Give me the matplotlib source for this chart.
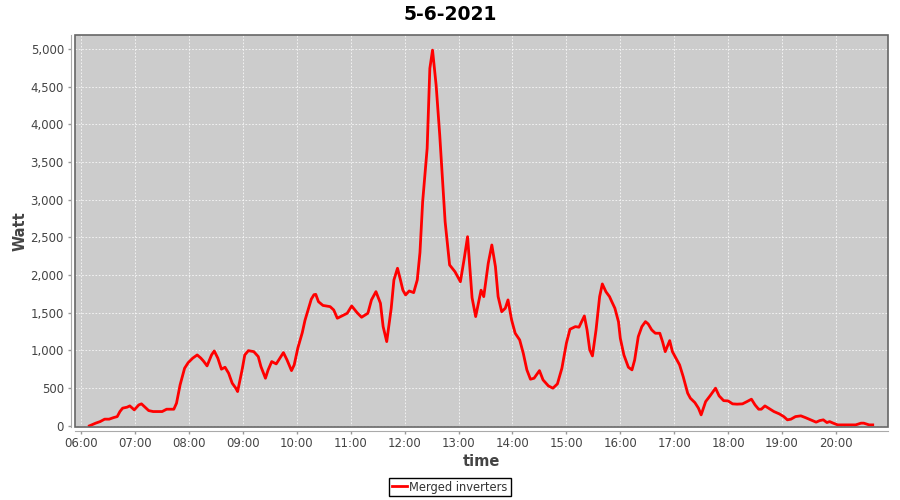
"""
Power of the merged inverters during one day (5-6-2021)
"""

# Imports
from datetime import datetime
import matplotlib
matplotlib.use("Agg")
import matplotlib.pyplot as plt
import matplotlib.dates as mdates
import matplotlib.ticker as ticker
from matplotlib.patches import Rectangle

# Define constants
DAY = "2021-06-05"
TITLE = "5-6-2021"
SERIES_NAME = "Merged inverters"

# Measured power (time of day, watt)
times = [
    "06:09", "06:16", "06:21", "06:26", "06:31", "06:36", "06:40", "06:43", "06:46", "06:51",
    "06:54", "06:59", "07:04", "07:07", "07:11", "07:15", "07:20", "07:30", "07:35", "07:43",
    "07:46", "07:50", "07:55", "07:59", "08:04", "08:09", "08:13", "08:16", "08:20", "08:25",
    "08:28", "08:32", "08:36", "08:40", "08:44", "08:48", "08:52", "08:54", "08:59", "09:02",
    "09:06", "09:12", "09:17", "09:20", "09:25", "09:28", "09:32", "09:37", "09:41", "09:45",
    "09:49", "09:54", "09:57", "10:01", "10:06", "10:09", "10:13", "10:16", "10:19", "10:21",
    "10:24", "10:29", "10:37", "10:41", "10:45", "10:50", "10:56", "11:01", "11:07", "11:12",
    "11:19", "11:23", "11:28", "11:33", "11:36", "11:40", "11:45", "11:48", "11:52", "11:55",
    "11:58", "12:01", "12:05", "12:10", "12:14", "12:17", "12:20", "12:25", "12:28", "12:31",
    "12:35", "12:39", "12:45", "12:50", "12:56", "13:02", "13:06", "13:10", "13:15", "13:19",
    "13:25", "13:28", "13:33", "13:37", "13:41", "13:44", "13:48", "13:52", "13:55", "13:59",
    "14:03", "14:08", "14:12", "14:16", "14:20", "14:24", "14:30", "14:34", "14:40", "14:45",
    "14:50", "14:55", "15:00", "15:04", "15:10", "15:14", "15:20", "15:23", "15:26", "15:29",
    "15:33", "15:37", "15:40", "15:44", "15:48", "15:50", "15:54", "15:58", "16:00", "16:04",
    "16:09", "16:13", "16:16", "16:20", "16:24", "16:28", "16:31", "16:35", "16:39", "16:44",
    "16:47", "16:50", "16:55", "16:58", "17:02", "17:06", "17:10", "17:15", "17:18", "17:23",
    "17:27", "17:30", "17:35", "17:40", "17:46", "17:50", "17:55", "18:00", "18:05", "18:10",
    "18:16", "18:21", "18:26", "18:30", "18:34", "18:37", "18:41", "18:45", "18:51", "18:57",
    "19:02", "19:06", "19:10", "19:15", "19:21", "19:26", "19:32", "19:38", "19:42", "19:46",
    "19:50", "19:53", "19:57", "20:02", "20:13", "20:22", "20:28", "20:31", "20:37", "20:41",
]
watts = [
    0, 36, 57, 89, 89, 110, 123, 190, 235, 248,
    265, 212, 278, 292, 248, 203, 190, 190, 221, 221,
    301, 544, 765, 839, 898, 941, 900, 860, 796, 941,
    994, 898, 752, 778, 699, 566, 500, 455, 743, 941,
    998, 985, 919, 786, 632, 743, 853, 822, 898, 972,
    875, 733, 809, 1030, 1237, 1400, 1560, 1680, 1740, 1745,
    1648, 1598, 1582, 1538, 1428, 1458, 1494, 1591, 1502, 1441,
    1494, 1671, 1781, 1627, 1317, 1118, 1561, 1936, 2091, 1950,
    1800, 1737, 1790, 1768, 1936, 2300, 2975, 3682, 4743, 4985,
    4520, 3860, 2710, 2135, 2045, 1913, 2200, 2510, 1700, 1450,
    1800, 1715, 2157, 2400, 2113, 1715, 1515, 1561, 1671, 1406,
    1229, 1140, 964, 743, 619, 632, 733, 610, 530, 500,
    557, 765, 1097, 1282, 1317, 1309, 1458, 1273, 1008, 928,
    1273, 1715, 1883, 1780, 1715, 1662, 1560, 1380, 1163, 941,
    778, 743, 875, 1184, 1317, 1383, 1353, 1273, 1229, 1229,
    1118, 985, 1131, 985, 898, 809, 654, 434, 367, 309,
    235, 146, 322, 400, 500, 398, 335, 331, 292, 288,
    292, 322, 354, 278, 221, 221, 265, 235, 190, 159,
    123, 80, 89, 123, 133, 110, 80, 49, 70, 80,
    44, 57, 36, 13, 13, 13, 36, 36, 13, 13,
]

# Convert times to datetimes
time_x = [datetime.strptime(f"{DAY} {t}", "%Y-%m-%d %H:%M") for t in times]

# Prepare figure
plt.rcParams["font.family"] = "DejaVu Sans"
fig = plt.figure(figsize=(9, 5), dpi=100)
ax = fig.add_axes([75 / 900, 1 - 427 / 500, 813 / 900, 392 / 500])
ax.set_facecolor("#cccccc")

# Draw series
ax.plot(time_x, watts, color="#ff0000", linewidth=2.0, label=SERIES_NAME,
        solid_joinstyle="round", zorder=3)

# Axis ranges
ax.set_xlim(datetime.strptime(f"{DAY} 05:53", "%Y-%m-%d %H:%M"),
            datetime.strptime(f"{DAY} 20:58", "%Y-%m-%d %H:%M"))
ax.set_ylim(-15, 5186)

# Ticks
ax.xaxis.set_major_locator(mdates.HourLocator())
ax.xaxis.set_major_formatter(mdates.DateFormatter("%H:%M"))
ax.yaxis.set_major_locator(ticker.MultipleLocator(500))
ax.yaxis.set_major_formatter(ticker.FuncFormatter(lambda v, p: f"{int(v):,}"))
ax.tick_params(axis="both", colors="#999999", labelcolor="#444444",
               labelsize=8.5, length=2, width=1)
ax.tick_params(axis="y", pad=3)
ax.tick_params(axis="x", pad=2)

# Grid
ax.grid(True, color="white", linestyle=(0, (2, 2)), linewidth=0.6, alpha=0.85)
ax.set_axisbelow(True)

# Axis lines offset from the plot outline
for side in ["top", "right"]:
    ax.spines[side].set_visible(False)
for side in ["left", "bottom"]:
    ax.spines[side].set_position(("outward", 3))
    ax.spines[side].set_color("#aaaaaa")
ax.add_patch(Rectangle((0, 0), 1, 1, transform=ax.transAxes, fill=False,
                       edgecolor="#666666", linewidth=1.2, zorder=4, clip_on=False))

# Labels and title
ax.set_xlabel("time", fontsize=10.5, fontweight="bold", color="#444444", labelpad=3)
ax.set_ylabel("Watt", fontsize=10.5, fontweight="bold", color="#444444", labelpad=2)
fig.suptitle(TITLE, x=0.5, y=0.99, fontsize=13.5, fontweight="bold")

# Legend below the chart
fig.legend(loc="center", bbox_to_anchor=(0.5, 0.026), fontsize=8.3,
           frameon=True, fancybox=False, edgecolor="black", framealpha=1,
           handlelength=1.3, handletextpad=0.2, borderpad=0.25, borderaxespad=0.2)
leg = fig.legends[0]
leg.get_frame().set_linewidth(1.0)
for text in leg.get_texts():
    text.set_color("#333333")

fig.savefig("out.png", dpi=100)
